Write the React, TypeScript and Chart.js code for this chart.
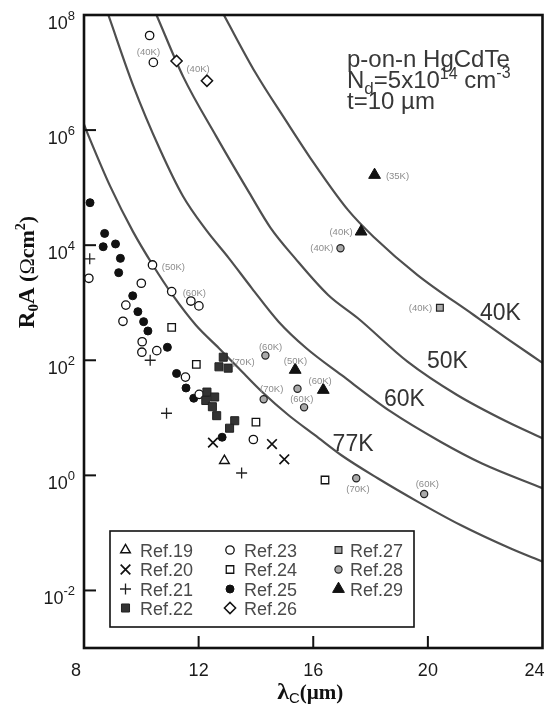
import React, { useEffect, useRef } from 'react';
import { Chart, registerables } from 'chart.js';
import { drawPoint } from 'chart.js/helpers';

Chart.register(...registerables);

// ---------- axes ----------
const xMin = 8;
const xMax = 24;
const yMin = 1e-3;
const yMax = 1e8;
const xTickValues = [8, 12, 16, 20, 24];
const xTickLabels = ['8', '12', '16', '20', '24'];
const yTickValues = [1e8, 1e6, 1e4, 1e2, 1, 1e-2];
const yTickExponents = ['8', '6', '4', '2', '0', '-2'];

// ---------- theoretical curves (λc µm, R0A Ω cm²) ----------
const curveNames = ['40K', '50K', '60K', '77K'];
const curve40K_x = [12.88, 13.99, 15.03, 15.9, 17.21, 18.11, 19.64, 21.6, 22.75, 24.0];
const curve40K_y = [1e8, 9.8e6, 1.5e6, 3.27e5, 4.1e4, 1.39e4, 3030, 612, 241, 90];
const curve50K_x = [10.53, 11.46, 12.62, 13.77, 14.51, 15.37, 16.52, 17.56, 19.29, 21.02, 22.75, 24.0];
const curve50K_y = [1e8, 8.5e6, 7.7e5, 8.1e4, 2.0e4, 5900, 1365, 537, 94.6, 24.9, 8.6, 4.4];
const curve60K_x = [8.85, 9.73, 10.66, 11.46, 12.26, 13.06, 13.86, 14.79, 15.76, 16.98, 18.71, 20.44, 21.89, 24.0];
const curve60K_y = [1e8, 5.7e6, 4.5e5, 7.0e4, 1.84e4, 5900, 1780, 469, 162, 55.6, 12.8, 3.85, 1.61, 0.6];
const curve77K_x = [8.0, 8.17, 8.92, 9.71, 10.4, 11.09, 11.9, 12.71, 13.4, 14.21, 15.13, 16.06, 16.97, 18.25, 19.64, 21.14, 22.87, 24.0];
const curve77K_y = [1.25e6, 7.7e5, 1.04e5, 1.72e4, 4530, 1365, 410, 162, 72.6, 28.4, 11.2, 5.0, 2.26, 0.89, 0.35, 0.137, 0.054, 0.0316];
const curveLabelX = [22.53, 20.68, 19.18, 17.39];
const curveLabelY = [656, 94.6, 20.4, 3.37];

// ---------- measured data ----------
const ref19X = [12.9];
const ref19Y = [1.8];
const ref20X = [12.5, 14.56, 14.99];
const ref20Y = [3.7, 3.5, 1.9];
const ref21X = [8.2, 10.31, 10.88, 13.5];
const ref21Y = [5800, 100, 12, 1.1];
const ref22X = [12.86, 12.71, 13.03, 12.29, 12.56, 12.25, 12.48, 12.63, 13.26, 13.08];
const ref22Y = [113, 77, 73, 28, 23, 20, 15.6, 10.9, 8.9, 6.6];
const ref23X = [10.29, 10.42, 8.17, 10.39, 10.0, 11.06, 11.73, 12.01, 9.46, 9.36, 10.03, 10.02, 10.54, 11.54, 12.02, 13.91];
const ref23Y = [4.4e7, 1.5e7, 2660, 4530, 2180, 1560, 1070, 880, 910, 476, 210, 138, 147, 51, 25.6, 4.2];
const ref24X = [11.06, 11.92, 14.0, 16.41];
const ref24Y = [374, 85, 8.4, 0.83];
const ref25X = [8.21, 8.72, 8.67, 9.1, 9.27, 9.21, 9.7, 9.88, 10.08, 10.23, 10.91, 11.23, 11.56, 11.83, 12.82];
const ref25Y = [54700, 16000, 9400, 10500, 5900, 3330, 1320, 700, 469, 323, 168, 59, 33, 21.9, 4.6];
const ref26X = [11.23, 12.29];
const ref26Y = [1.59e7, 7.2e6];
const ref27X = [20.42];
const ref27Y = [820];
const ref28X = [16.95, 14.33, 14.27, 15.45, 15.68, 17.5, 19.87];
const ref28Y = [8830, 121, 21, 32, 15.2, 0.89, 0.475];
const ref29X = [18.14, 17.67, 15.37, 16.35];
const ref29Y = [1.66e5, 17200, 68, 30.5];

// ---------- small temperature notes next to points ----------
const noteText = ['(40K)', '(40K)', '(35K)', '(40K)', '(40K)', '(40K)', '(50K)', '(60K)', '(60K)', '(70K)', '(50K)', '(70K)', '(60K)', '(60K)', '(70K)', '(60K)'];
const noteX = [10.25, 11.98, 18.94, 16.97, 16.3, 19.74, 11.12, 11.85, 14.51, 13.55, 15.38, 14.55, 16.24, 15.6, 17.56, 19.98];
const noteY = [2.28e7, 1.15e7, 1.59e5, 1.69e4, 8930, 811, 4180, 1480, 170, 93, 97, 31.7, 43.6, 21.3, 0.58, 0.71];

const pts = (xs: number[], ys: number[]) => xs.map((x, i) => ({ x, y: ys[i] }));

const SANS = '"Liberation Sans", Arial, Helvetica, sans-serif';
const SERIF = '"Liberation Serif", "Times New Roman", serif';

type Piece = { t: string; font: string; dy?: number; color?: string; w?: number };

function drawPieces(ctx: CanvasRenderingContext2D, pieces: Piece[], x: number, y: number, align: 'left' | 'center' | 'right') {
  let total = 0;
  for (const p of pieces) {
    ctx.font = p.font;
    p.w = ctx.measureText(p.t).width;
    total += p.w;
  }
  let cx = align === 'center' ? x - total / 2 : align === 'right' ? x - total : x;
  ctx.textAlign = 'left';
  ctx.textBaseline = 'alphabetic';
  for (const p of pieces) {
    ctx.font = p.font;
    if (p.color) ctx.fillStyle = p.color;
    ctx.fillText(p.t, cx, y + (p.dy || 0));
    cx += p.w || 0;
  }
}

const pointDataset = (label: string, xs: number[], ys: number[], style: string, radius: number, bg: string, border: string, bw: number) => ({
  label,
  data: pts(xs, ys),
  pointStyle: style,
  pointRadius: radius,
  pointHoverRadius: radius,
  pointBackgroundColor: bg,
  pointBorderColor: border,
  pointBorderWidth: bw,
  backgroundColor: bg,
  borderColor: border,
  showLine: false,
  order: 1,
});

const curveDataset = (label: string, xs: number[], ys: number[]) => ({
  label,
  data: pts(xs, ys),
  showLine: true,
  pointRadius: 0,
  pointHoverRadius: 0,
  borderColor: '#4f4f4f',
  borderWidth: 2.2,
  cubicInterpolationMode: 'monotone',
  fill: false,
  order: 10,
  isCurve: true,
});

const decorPlugin = {
  id: 'decor',
  beforeDraw(chart: any) {
    const { ctx, width, height } = chart;
    ctx.save();
    ctx.fillStyle = '#ffffff';
    ctx.fillRect(0, 0, width, height);
    ctx.restore();
  },
  afterDatasetsDraw(chart: any) {
    const { ctx, chartArea } = chart;
    const xs = chart.scales.x;
    const ys = chart.scales.y;
    const { left, right, top, bottom } = chartArea;
    ctx.save();

    // small temperature notes
    ctx.fillStyle = '#8c8c8c';
    ctx.font = `9.5px ${SANS}`;
    ctx.textAlign = 'center';
    ctx.textBaseline = 'middle';
    noteText.forEach((t, i) => {
      ctx.fillText(t, xs.getPixelForValue(noteX[i]), ys.getPixelForValue(noteY[i]));
    });

    // curve labels
    ctx.fillStyle = '#333333';
    ctx.font = `23px ${SANS}`;
    curveNames.forEach((t, i) => {
      ctx.fillText(t, xs.getPixelForValue(curveLabelX[i]), ys.getPixelForValue(curveLabelY[i]));
    });

    // info text block
    ctx.fillStyle = '#383838';
    const ix = left + 263;
    drawPieces(ctx, [{ t: 'p-on-n HgCdTe', font: `24px ${SANS}` }], ix, top + 52, 'left');
    drawPieces(ctx, [
      { t: 'N', font: `24px ${SANS}` },
      { t: 'd', font: `17px ${SANS}`, dy: 6 },
      { t: '=5x10', font: `24px ${SANS}` },
      { t: '14', font: `16px ${SANS}`, dy: -9 },
      { t: ' cm', font: `24px ${SANS}` },
      { t: '-3', font: `16px ${SANS}`, dy: -10 },
    ], ix, top + 73, 'left');
    drawPieces(ctx, [{ t: 't=10 µm', font: `24px ${SANS}` }], ix, top + 94, 'left');

    // frame
    ctx.strokeStyle = '#111111';
    ctx.lineWidth = 2.6;
    ctx.strokeRect(left, top, right - left, bottom - top);

    // inward tick marks
    ctx.lineWidth = 2;
    yTickValues.forEach((v) => {
      const py = ys.getPixelForValue(v);
      if (py <= top + 2 || py >= bottom - 2) return;
      ctx.beginPath();
      ctx.moveTo(left, py);
      ctx.lineTo(left + 12, py);
      ctx.stroke();
    });
    xTickValues.forEach((v) => {
      const px = xs.getPixelForValue(v);
      if (px <= left + 2 || px >= right - 2) return;
      ctx.beginPath();
      ctx.moveTo(px, bottom);
      ctx.lineTo(px, bottom - 12);
      ctx.stroke();
    });

    // y tick labels 10^n
    ctx.fillStyle = '#1a1a1a';
    yTickValues.forEach((v, i) => {
      const py = ys.getPixelForValue(v);
      drawPieces(ctx, [
        { t: '10', font: `18px ${SANS}` },
        { t: yTickExponents[i], font: `13px ${SANS}`, dy: -9 },
      ], left - 9, py + 13.5, 'right');
    });

    // x tick labels
    ctx.font = `18px ${SANS}`;
    ctx.textAlign = 'center';
    ctx.textBaseline = 'alphabetic';
    xTickValues.forEach((v, i) => {
      let px = xs.getPixelForValue(v);
      if (i === 0 || i === xTickValues.length - 1) px -= 8;
      ctx.fillText(xTickLabels[i], px, bottom + 28);
    });

    // x axis title
    ctx.fillStyle = '#111111';
    drawPieces(ctx, [
      { t: 'λ', font: `bold 24px ${SERIF}` },
      { t: 'C', font: `15px ${SANS}`, dy: 4 },
      { t: '(µm)', font: `bold 21px ${SERIF}` },
    ], (left + right) / 2 - 3, bottom + 51, 'center');

    // y axis title (rotated)
    ctx.save();
    ctx.translate(34, 272);
    ctx.rotate(-Math.PI / 2);
    drawPieces(ctx, [
      { t: 'R', font: `bold 23px ${SERIF}` },
      { t: '0', font: `bold 15px ${SERIF}`, dy: 4 },
      { t: 'A', font: `bold 23px ${SERIF}` },
      { t: ' (', font: `bold 22px ${SERIF}` },
      { t: 'Ω', font: `22px ${SERIF}` },
      { t: 'cm', font: `bold 22px ${SERIF}` },
      { t: '2', font: `bold 14px ${SERIF}`, dy: -9 },
      { t: ')', font: `bold 22px ${SERIF}` },
    ], 0, 0, 'center');
    ctx.restore();

    ctx.restore();
  },
  afterDraw(chart: any) {
    const { ctx } = chart;
    const sets = chart.data.datasets.filter((d: any) => !d.isCurve);
    const box = { x: 110, y: 531, w: 304, h: 96 };
    const colSym = [125.5, 230, 338.5];
    const colText = [140, 244, 350];
    const rowY = [550, 569.5, 589, 608];
    ctx.save();
    ctx.fillStyle = '#ffffff';
    ctx.fillRect(box.x, box.y, box.w, box.h);
    ctx.strokeStyle = '#111111';
    ctx.lineWidth = 1.6;
    ctx.strokeRect(box.x, box.y, box.w, box.h);
    sets.forEach((d: any, i: number) => {
      const col = Math.floor(i / 4);
      const row = i % 4;
      const cy = rowY[row];
      ctx.fillStyle = d.pointBackgroundColor;
      ctx.strokeStyle = d.pointBorderColor;
      ctx.lineWidth = d.pointBorderWidth;
      drawPoint(ctx, { pointStyle: d.pointStyle, radius: d.pointRadius, rotation: 0, borderWidth: d.pointBorderWidth } as any, colSym[col], cy);
      ctx.fillStyle = '#4a4a4a';
      ctx.font = `18px ${SANS}`;
      ctx.textAlign = 'left';
      ctx.textBaseline = 'alphabetic';
      ctx.fillText(d.label, colText[col], cy + 6.5);
    });
    ctx.restore();
  },
};

export default function App() {
  const canvasRef = useRef<HTMLCanvasElement | null>(null);

  useEffect(() => {
    if (!canvasRef.current) return;
    const datasets: any[] = [
      pointDataset('Ref.19', ref19X, ref19Y, 'triangle', 5.6, '#ffffff', '#111111', 1.4),
      pointDataset('Ref.20', ref20X, ref20Y, 'crossRot', 6.8, '#111111', '#111111', 1.7),
      pointDataset('Ref.21', ref21X, ref21Y, 'cross', 5.5, '#222222', '#222222', 1.3),
      pointDataset('Ref.22', ref22X, ref22Y, 'rect', 5.7, '#333333', '#222222', 1),
      pointDataset('Ref.23', ref23X, ref23Y, 'circle', 4.2, '#ffffff', '#111111', 1.3),
      pointDataset('Ref.24', ref24X, ref24Y, 'rect', 5.3, '#ffffff', '#111111', 1.3),
      pointDataset('Ref.25', ref25X, ref25Y, 'circle', 4.0, '#111111', '#111111', 1),
      pointDataset('Ref.26', ref26X, ref26Y, 'rectRot', 5.6, '#ffffff', '#111111', 1.5),
      pointDataset('Ref.27', ref27X, ref27Y, 'rect', 4.8, '#aaaaaa', '#222222', 1.2),
      pointDataset('Ref.28', ref28X, ref28Y, 'circle', 3.6, '#aaaaaa', '#222222', 1.2),
      pointDataset('Ref.29', ref29X, ref29Y, 'triangle', 6.8, '#111111', '#111111', 1),
      curveDataset('40K', curve40K_x, curve40K_y),
      curveDataset('50K', curve50K_x, curve50K_y),
      curveDataset('60K', curve60K_x, curve60K_y),
      curveDataset('77K', curve77K_x, curve77K_y),
    ];
    const chart = new Chart(canvasRef.current, {
      type: 'scatter',
      data: { datasets },
      options: {
        responsive: false,
        animation: false,
        devicePixelRatio: 1,
        events: [],
        layout: { padding: { left: 84, right: 5, top: 15, bottom: 56 } },
        plugins: { legend: { display: false }, tooltip: { enabled: false }, title: { display: false } },
        scales: {
          x: { type: 'linear', min: xMin, max: xMax, display: false },
          y: { type: 'logarithmic', min: yMin, max: yMax, display: false },
        },
      } as any,
      plugins: [decorPlugin as any],
    });
    return () => chart.destroy();
  }, []);

  return (
    <div style={{ position: 'fixed', left: 0, top: 0, width: 551, height: 704, background: '#ffffff' }}>
      <canvas ref={canvasRef} width={551} height={704} style={{ display: 'block', width: 551, height: 704 }} />
    </div>
  );
}
